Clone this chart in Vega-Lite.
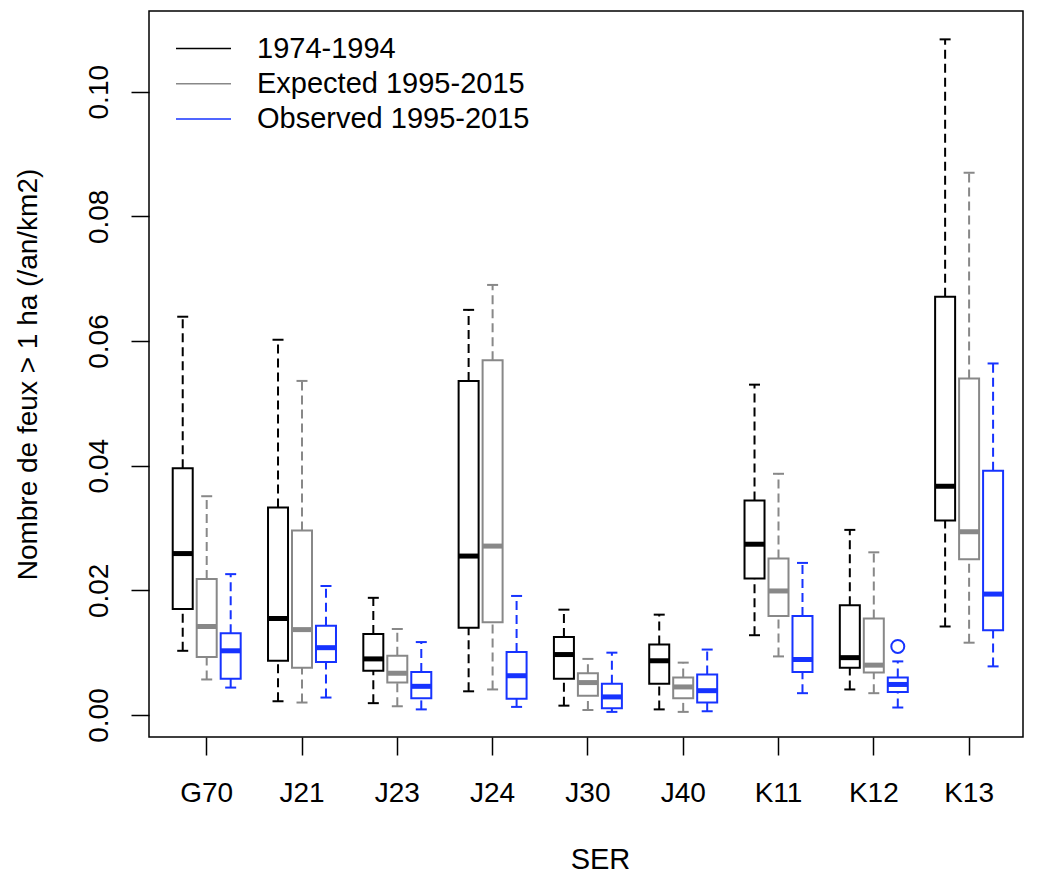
{
  "$schema": "https://vega.github.io/schema/vega-lite/v6.json",
  "width": 874,
  "height": 726,
  "autosize": "none",
  "padding": {"left": 149, "top": 11, "right": 17, "bottom": 138},
  "background": "white",
  "config": {
    "font": "Liberation Sans",
    "view": {"stroke": "black", "strokeWidth": 1.5},
    "axis": {"labelColor": "black", "titleColor": "black", "titleFontWeight": "normal", "labelFont": "Liberation Sans", "titleFont": "Liberation Sans"}
  },
  "datasets": {
    "stats": [
      {"SER": "G70", "period": "1974-1994", "lower": 0.0103, "q1": 0.0170, "median": 0.0259, "q3": 0.0396, "upper": 0.0639},
      {"SER": "G70", "period": "Expected 1995-2015", "lower": 0.0057, "q1": 0.0093, "median": 0.0142, "q3": 0.0218, "upper": 0.0351},
      {"SER": "G70", "period": "Observed 1995-2015", "lower": 0.0044, "q1": 0.0058, "median": 0.0103, "q3": 0.0131, "upper": 0.0226},
      {"SER": "J21", "period": "1974-1994", "lower": 0.0022, "q1": 0.0087, "median": 0.0155, "q3": 0.0333, "upper": 0.0602},
      {"SER": "J21", "period": "Expected 1995-2015", "lower": 0.0020, "q1": 0.0076, "median": 0.0137, "q3": 0.0296, "upper": 0.0536},
      {"SER": "J21", "period": "Observed 1995-2015", "lower": 0.0028, "q1": 0.0085, "median": 0.0108, "q3": 0.0143, "upper": 0.0207},
      {"SER": "J23", "period": "1974-1994", "lower": 0.0019, "q1": 0.0071, "median": 0.0090, "q3": 0.0130, "upper": 0.0188},
      {"SER": "J23", "period": "Expected 1995-2015", "lower": 0.0014, "q1": 0.0052, "median": 0.0067, "q3": 0.0095, "upper": 0.0138},
      {"SER": "J23", "period": "Observed 1995-2015", "lower": 0.0009, "q1": 0.0027, "median": 0.0046, "q3": 0.0069, "upper": 0.0117},
      {"SER": "J24", "period": "1974-1994", "lower": 0.0038, "q1": 0.0140, "median": 0.0255, "q3": 0.0536, "upper": 0.0650},
      {"SER": "J24", "period": "Expected 1995-2015", "lower": 0.0041, "q1": 0.0149, "median": 0.0271, "q3": 0.0569, "upper": 0.0690},
      {"SER": "J24", "period": "Observed 1995-2015", "lower": 0.0013, "q1": 0.0026, "median": 0.0063, "q3": 0.0101, "upper": 0.0191},
      {"SER": "J30", "period": "1974-1994", "lower": 0.0015, "q1": 0.0058, "median": 0.0097, "q3": 0.0125, "upper": 0.0169},
      {"SER": "J30", "period": "Expected 1995-2015", "lower": 0.0008, "q1": 0.0031, "median": 0.0052, "q3": 0.0067, "upper": 0.0090},
      {"SER": "J30", "period": "Observed 1995-2015", "lower": 0.0005, "q1": 0.0011, "median": 0.0029, "q3": 0.0050, "upper": 0.0100},
      {"SER": "J40", "period": "1974-1994", "lower": 0.0009, "q1": 0.0050, "median": 0.0087, "q3": 0.0113, "upper": 0.0161},
      {"SER": "J40", "period": "Expected 1995-2015", "lower": 0.0005, "q1": 0.0027, "median": 0.0045, "q3": 0.0060, "upper": 0.0084},
      {"SER": "J40", "period": "Observed 1995-2015", "lower": 0.0006, "q1": 0.0020, "median": 0.0039, "q3": 0.0065, "upper": 0.0105},
      {"SER": "K11", "period": "1974-1994", "lower": 0.0128, "q1": 0.0219, "median": 0.0274, "q3": 0.0344, "upper": 0.0530},
      {"SER": "K11", "period": "Expected 1995-2015", "lower": 0.0094, "q1": 0.0159, "median": 0.0199, "q3": 0.0251, "upper": 0.0387},
      {"SER": "K11", "period": "Observed 1995-2015", "lower": 0.0035, "q1": 0.0069, "median": 0.0089, "q3": 0.0159, "upper": 0.0244},
      {"SER": "K12", "period": "1974-1994", "lower": 0.0041, "q1": 0.0076, "median": 0.0092, "q3": 0.0176, "upper": 0.0297},
      {"SER": "K12", "period": "Expected 1995-2015", "lower": 0.0035, "q1": 0.0068, "median": 0.0080, "q3": 0.0155, "upper": 0.0261},
      {"SER": "K12", "period": "Observed 1995-2015", "lower": 0.0012, "q1": 0.0037, "median": 0.0049, "q3": 0.0060, "upper": 0.0086},
      {"SER": "K13", "period": "1974-1994", "lower": 0.0142, "q1": 0.0312, "median": 0.0367, "q3": 0.0671, "upper": 0.1084},
      {"SER": "K13", "period": "Expected 1995-2015", "lower": 0.0116, "q1": 0.0250, "median": 0.0294, "q3": 0.0540, "upper": 0.0870},
      {"SER": "K13", "period": "Observed 1995-2015", "lower": 0.0078, "q1": 0.0136, "median": 0.0194, "q3": 0.0392, "upper": 0.0564}
    ],
    "outliers": [
      {"SER": "K12", "period": "Observed 1995-2015", "value": 0.0110}
    ]
  },
  "data": {"name": "stats"},
  "encoding": {
    "x": {
      "field": "SER", "type": "nominal",
      "scale": {"paddingInner": 0.245, "paddingOuter": 0.208, "align": 0.548},
      "axis": {
        "labelAngle": 0, "labelAlign": "center", "labelBaseline": "alphabetic",
        "labelFontSize": 28, "labelPadding": 46.5,
        "tickSize": 18, "tickWidth": 1.5, "tickColor": "black",
        "domain": false, "grid": false,
        "title": "SER", "titleFontSize": 29, "titleBaseline": "alphabetic",
        "titleY": 131.5, "titleX": 451, "titleAlign": "center"
      }
    },
    "xOffset": {"field": "period", "type": "nominal", "scale": {"paddingInner": 0, "paddingOuter": 0}},
    "color": {
      "field": "period", "type": "nominal",
      "scale": {"domain": ["1974-1994", "Expected 1995-2015", "Observed 1995-2015"], "range": ["#000000", "#888888", "#1633ff"]},
      "legend": {
        "orient": "none", "legendX": 26, "legendY": 23.5, "title": null,
        "symbolType": "stroke", "symbolSize": 3025, "symbolStrokeWidth": 1.5, "symbolDash": [],
        "labelFontSize": 29, "labelOffset": 25, "labelColor": "black", "labelFont": "Liberation Sans", "labelLimit": 500,
        "clipHeight": 28, "rowPadding": 6.3, "padding": 0
      }
    }
  },
  "layer": [
    {
      "mark": {"type": "bar", "filled": false, "strokeWidth": 2, "width": 20},
      "encoding": {
        "y": {
          "field": "q1", "type": "quantitative",
          "scale": {"domain": [-0.00353, 0.11295], "nice": false, "zero": false},
          "axis": {
            "values": [0, 0.02, 0.04, 0.06, 0.08, 0.1], "format": ".2f",
            "labelAngle": -90, "labelAlign": "center", "labelBaseline": "alphabetic",
            "labelFontSize": 28, "labelPadding": 24,
            "tickSize": 18, "tickWidth": 1.5, "tickColor": "black",
            "domain": false, "grid": false,
            "title": "Nombre de feux > 1 ha (/an/km2)", "titleFontSize": 28,
            "titleAngle": -90, "titleAlign": "center", "titleBaseline": "alphabetic",
            "titleX": -112.5, "titleY": 363
          }
        },
        "y2": {"field": "q3"}
      }
    },
    {
      "mark": {"type": "rule", "strokeDash": [9, 5], "strokeWidth": 2},
      "encoding": {"y": {"field": "lower", "type": "quantitative"}, "y2": {"field": "q1"}}
    },
    {
      "mark": {"type": "rule", "strokeDash": [9, 5], "strokeWidth": 2},
      "encoding": {"y": {"field": "q3", "type": "quantitative"}, "y2": {"field": "upper"}}
    },
    {
      "mark": {"type": "tick", "orient": "horizontal", "size": 11, "thickness": 2, "opacity": 1},
      "encoding": {"y": {"field": "upper", "type": "quantitative"}}
    },
    {
      "mark": {"type": "tick", "orient": "horizontal", "size": 11, "thickness": 2, "opacity": 1},
      "encoding": {"y": {"field": "lower", "type": "quantitative"}}
    },
    {
      "mark": {"type": "tick", "orient": "horizontal", "size": 20, "thickness": 5, "opacity": 1},
      "encoding": {"y": {"field": "median", "type": "quantitative"}}
    },
    {
      "data": {"name": "outliers"},
      "mark": {"type": "point", "shape": "circle", "filled": false, "size": 169, "strokeWidth": 2, "opacity": 1},
      "encoding": {"y": {"field": "value", "type": "quantitative"}}
    }
  ]
}
